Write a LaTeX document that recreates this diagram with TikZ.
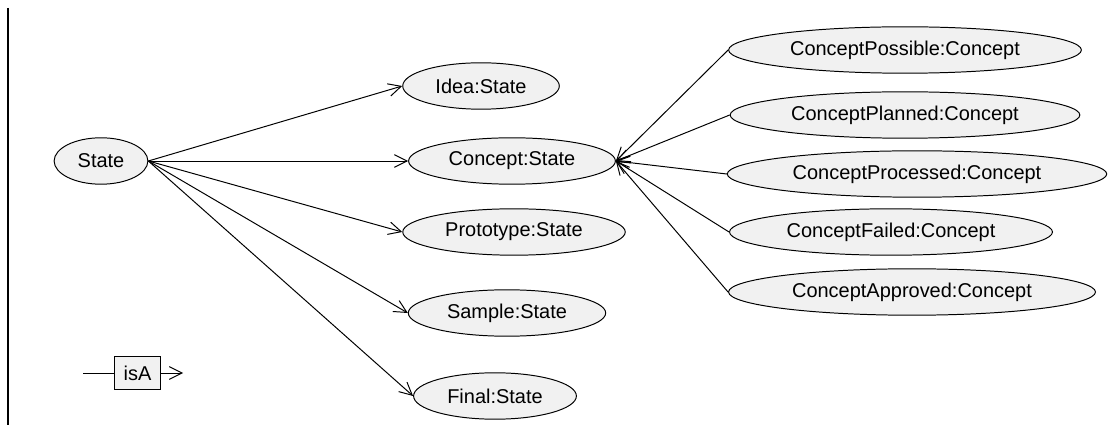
\documentclass[tikz,border=0pt]{standalone}
\usepackage{fontspec}
\setmainfont{Liberation Sans}
\usetikzlibrary{shapes.geometric,arrows.meta}
\definecolor{nodefill}{RGB}{241,241,241}
\begin{document}
\begin{tikzpicture}[x=0.025cm,y=-0.025cm,
  state/.style={ellipse,draw,fill=nodefill,line width=0.7pt,inner xsep=7pt,inner ysep=0pt,
    minimum height=33pt,font=\fontsize{14.2}{17}\selectfont},
  isa/.style={-{Straight Barb[length=9pt,width=9pt]},line width=0.7pt}]
  \useasboundingbox (0,0) rectangle (1116,425);
  \draw[line width=1.5pt] (8,8) -- (8,425);
  % states
  \node[state] (state) at (101,161) {State};
  \node[state] (idea) at (481,86) {Idea:State};
  \node[state] (concept) at (512,161) {Concept:State};
  \node[state] (prototype) at (514,232) {Prototype:State};
  \node[state] (sample) at (507,313) {Sample:State};
  \node[state] (final) at (495,396) {Final:State};
  % concept states
  \node[state] (possible) at (905,50) {ConceptPossible:Concept};
  \node[state] (planned) at (905,115) {ConceptPlanned:Concept};
  \node[state] (processed) at (917,174) {ConceptProcessed:Concept};
  \node[state] (failed) at (891,232) {ConceptFailed:Concept};
  \node[state] (approved) at (912,292) {ConceptApproved:Concept};
  \foreach \t in {idea,concept,prototype,sample,final}
    \draw[isa] (state.east) -- (\t.west);
  \foreach \s in {possible,planned,processed,failed,approved}
    \draw[isa] (\s.west) -- (concept.east);
  % legend
  \node[draw,fill=nodefill,line width=0.7pt,minimum width=33pt,minimum height=24pt,
    font=\fontsize{14.2}{17}\selectfont] (legend) at (137.5,373) {isA};
  \coordinate (legstart) at (83,373);
  \coordinate (legend2) at (183,373);
  \draw[line width=0.7pt] (legstart) -- (legend.west);
  \draw[isa] (legend.east) -- (legend2);
\end{tikzpicture}
\end{document}
